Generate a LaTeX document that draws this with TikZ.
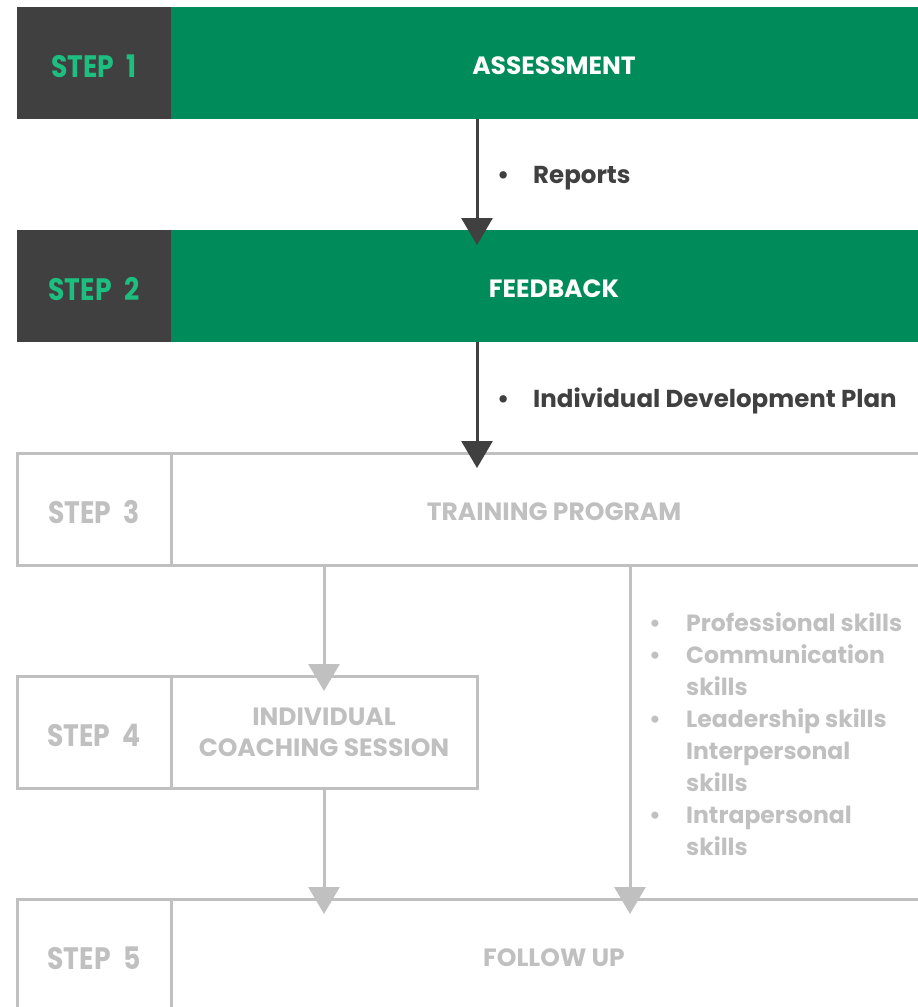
\documentclass[tikz,border=0pt]{standalone}
\usepackage{fontspec}
\setmainfont{Poppins}
\newfontfamily\tagfont{Poppins}[FakeStretch=0.86]
\usetikzlibrary{positioning,arrows.meta}
\definecolor{dark}{HTML}{404040}
\definecolor{leaf}{HTML}{008C5A}
\definecolor{mint}{HTML}{1DBF80}
\definecolor{mute}{HTML}{C0C0C0}
\newcommand{\lowered}[1]{\raisebox{-3pt}[\height][\depth]{#1}}
\newcommand{\stepno}[1]{\lowered{STEP\hspace{0.4em}#1}}

\begin{document}
\begin{tikzpicture}[
  x=1pt, y=-1pt,
  tag/.style={minimum width=154pt, minimum height=112pt, inner sep=0pt, outer sep=0pt,
    font=\tagfont\fontsize{31}{32}\selectfont\bfseries},
  bar/.style={minimum height=112pt, inner sep=0pt, outer sep=0pt, align=center,
    font=\fontsize{25}{31}\selectfont\bfseries},
  hot/.style={fill=dark, text=mint},
  cold/.style={draw=mute, line width=3pt, text=mute},
  arr/.style={-{Triangle[width=31pt,length=27pt]}, line width=3pt, dark},
  arrmute/.style={-{Triangle[width=31pt,length=27pt]}, line width=3pt, mute},
  note/.style={anchor=west, inner sep=0pt, font=\fontsize{24.5}{32}\selectfont\bfseries, text=dark}
]
\useasboundingbox (0,0) rectangle (918,1007);
\clip (0,0) rectangle (918,1007);

% steps
\node[tag, hot] (t1) at (94,63) {\stepno{1}};
\node[bar, fill=leaf, text=white, minimum width=766pt, right=0pt of t1] (b1) {\lowered{ASSESSMENT}};
\node[tag, hot, below=111pt of t1] (t2) {\stepno{2}};
\node[bar, fill=leaf, text=white, minimum width=766pt, right=0pt of t2] (b2) {\lowered{FEEDBACK}};
\node[tag, cold, below=111pt of t2] (t3) {\stepno{3}};
\node[bar, cold, minimum width=766pt, right=0pt of t3] (b3) {\lowered{TRAINING PROGRAM}};
\node[tag, cold, below=111pt of t3] (t4) {\stepno{4}};
\node[bar, cold, minimum width=306pt, right=0pt of t4] (b4) {INDIVIDUAL\\COACHING SESSION};
\node[tag, cold, below=111pt of t4] (t5) {\stepno{5}};
\node[bar, cold, minimum width=766pt, right=0pt of t5] (b5) {\lowered{FOLLOW UP}};

% notes on the arrows
\node[note] (n1) at (497,178) {\makebox[36pt][l]{\textbullet}Reports};
\node[note] (n2) at (497,401) {\makebox[36pt][l]{\textbullet}Individual Development Plan};
\node[note, anchor=north west, text=mute, align=left, font=\fontsize{23.5}{32}\selectfont\bfseries] (n3) at (649,612)
  {\makebox[37pt][l]{\textbullet}Professional skills\\
   \makebox[37pt][l]{\textbullet}Communication\\
   \hspace*{37pt}skills\\
   \makebox[37pt][l]{\textbullet}Leadership skills\\
   \hspace*{37pt}Interpersonal\\
   \hspace*{37pt}skills\\
   \makebox[37pt][l]{\textbullet}Intrapersonal\\
   \hspace*{37pt}skills};

\coordinate (main) at (477,0);
\coordinate (side) at (630,0);

\draw[arr] (b1.south -| main) -- ([yshift=-15pt]b2.north -| main);
\draw[arr] (b2.south -| main) -- ([yshift=-15pt]b3.north -| main);
\draw[arrmute] (b3.south -| b4) -- ([yshift=-15pt]b4.north);
\draw[arrmute] (b4.south) -- ([yshift=-15pt]b5.north -| b4);
\draw[arrmute] (b3.south -| side) -- ([yshift=-15pt]b5.north -| side);
\end{tikzpicture}
\end{document}
